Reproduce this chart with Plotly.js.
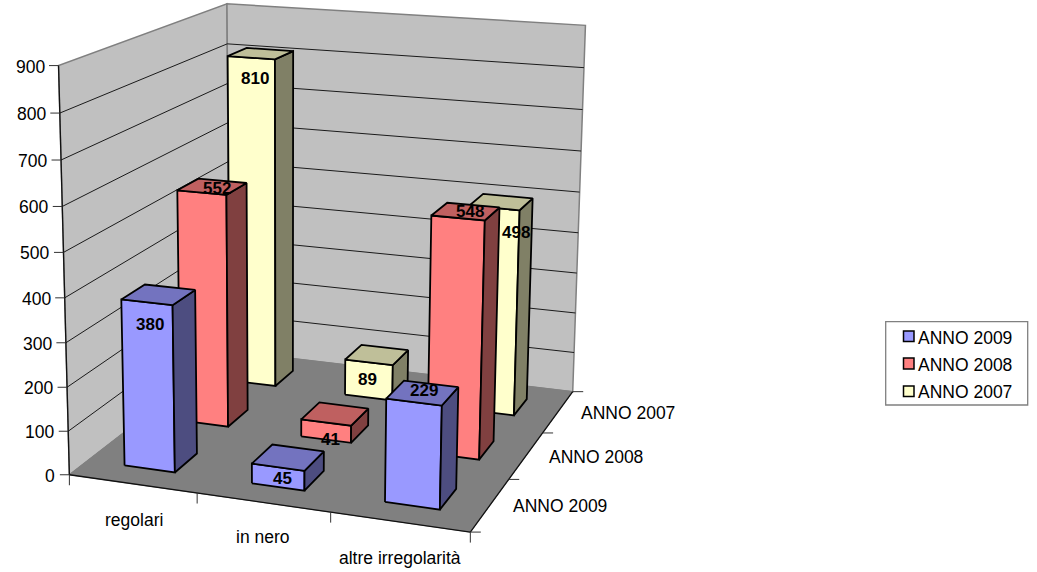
<!DOCTYPE html>
<html><head><meta charset="utf-8">
<script src="https://cdn.plot.ly/plotly-3.0.1.min.js"></script>
<style>html,body{margin:0;padding:0;background:#fff}</style></head>
<body><div id="chart" style="width:1037px;height:572px"></div>
<script>
// ---- data ----
const categories = ['regolari', 'in nero', 'altre irregolarità'];
const seriesNames = ['ANNO 2009', 'ANNO 2008', 'ANNO 2007'];
const anno2009 = [380, 45, 229];
const anno2008 = [552, 41, 548];
const anno2007 = [810, 89, 498];
const valueTicks = [0, 100, 200, 300, 400, 500, 600, 700, 800, 900];

// ---- style ----
const faceColors = [
  {front: '#9999FF', side: '#4D4D80', top: '#7373BF'},
  {front: '#FF8080', side: '#804040', top: '#BF6060'},
  {front: '#FFFFCC', side: '#808066', top: '#BFBF99'}
];
const FONT = 'Liberation Sans, Arial, sans-serif';
const AXIS_FONT = 17.5;
const barU = [0.295, 0.695];   // bar extent inside a category cell
const barV = [0.30, 0.70];     // bar extent inside a series cell
const labelOffset = [
  [[-10, 30], [-7, 21], [0, -2]],
  [[4, 2], [-6, 26], [3, 0]],
  [[-7, 25], [-10, 25], [14, 31]]
];
const legendBox = [885.7, 321.7, 1027.7, 405];
const legendSwatchX = [903.5, 914];
const legendSwatchY = [[331, 341.5], [358, 369], [386, 396.5]];

// ---- perspective calibration: [category pos, series pos, value] -> page pixel ----
const calibration = [
  [0,0,0,72,475],[1,0,0,198,493],[2,0,0,330,513],[3,0,0,470,531],
  [3,1,0,509,479],[3,2,0,543,433],[3,3,0,573,392],[0,3,0,228,352],[0,3,0,228,352],
  [0,0,900,56,65],[0,0,700,60,160],[0,0,500,63,253],[0,0,300,67,343],
  [0,3,900,228,5],[0,3,900,228,5],[0,3,900,228,5],[0,3,450,228,178],[0,3,450,228,178],
  [3,3,900,586,25],[3,3,700,582,109],[3,3,500,579,193],[3,3,300,577,273],[3,3,100,574,353]
];
function solve(M, b) {
  const n = b.length, A = M.map((r, i) => r.concat(b[i]));
  for (let c = 0; c < n; c++) {
    let p = c;
    for (let r = c + 1; r < n; r++) if (Math.abs(A[r][c]) > Math.abs(A[p][c])) p = r;
    [A[c], A[p]] = [A[p], A[c]];
    for (let r = 0; r < n; r++) if (r !== c) {
      const f = A[r][c] / A[c][c];
      for (let k = c; k <= n; k++) A[r][k] -= f * A[c][k];
    }
  }
  return A.map((r, i) => r[n] / r[i]);
}
function fitCamera() {
  const rows = [], rhs = [];
  calibration.forEach(([u, v, h, x, y]) => {
    const X = u / 3, Y = v / 3, Z = h / 900;
    rows.push([X, Y, Z, 1, 0, 0, 0, 0, -x * X, -x * Y, -x * Z]); rhs.push(x);
    rows.push([0, 0, 0, 0, X, Y, Z, 1, -y * X, -y * Y, -y * Z]); rhs.push(y);
  });
  const n = 11, N = [], t = [];
  for (let i = 0; i < n; i++) {
    N.push([]); t.push(rows.reduce((s, r, k) => s + r[i] * rhs[k], 0));
    for (let j = 0; j < n; j++) N[i].push(rows.reduce((s, r) => s + r[i] * r[j], 0));
  }
  return solve(N, t);
}
const P = fitCamera();
function project(u, v, h) {
  const X = u / 3, Y = v / 3, Z = h / 900;
  const w = P[8] * X + P[9] * Y + P[10] * Z + 1;
  return [(P[0] * X + P[1] * Y + P[2] * Z + P[3]) / w, (P[4] * X + P[5] * Y + P[6] * Z + P[7]) / w];
}

// ---- traces ----
const traces = [];
function poly(pts, fill, lineColor, lineWidth) {
  const pr = pts.map(p => project(p[0], p[1], p[2]));
  pr.push(pr[0]);
  traces.push({type: 'scatter', mode: 'lines', x: pr.map(p => p[0]), y: pr.map(p => p[1]),
    fill: 'toself', fillcolor: fill, line: {color: lineColor, width: lineWidth},
    hoverinfo: 'skip', showlegend: false});
}
function segs(list, color, width) {
  const x = [], y = [];
  list.forEach(s => {
    s.forEach(p => { x.push(p[0]); y.push(p[1]); });
    x.push(null); y.push(null);
  });
  traces.push({type: 'scatter', mode: 'lines', x, y, line: {color, width},
    hoverinfo: 'skip', showlegend: false});
}
const TOP = valueTicks[valueTicks.length - 1];
// walls and floor
poly([[0,0,0],[0,3,0],[0,3,TOP],[0,0,TOP]], '#C0C0C0', '#808080', 1.5);
poly([[0,3,0],[3,3,0],[3,3,TOP],[0,3,TOP]], '#C0C0C0', '#808080', 1.5);
poly([[0,0,0],[3,0,0],[3,3,0],[0,3,0]], '#808080', '#808080', 1);
// gridlines
segs(valueTicks.slice(1, -1).flatMap(t => [
  [project(0,0,t), project(0,3,t)],
  [project(0,3,t), project(3,3,t)]
]), '#1a1a1a', 1);
// axis lines and ticks
segs([[project(0,0,0), project(0,0,TOP)],
      [project(0,0,0), project(3,0,0)],
      [project(3,0,0), project(3,3,0)]], '#111', 1.3);
const tickSegs = [];
valueTicks.forEach(t => { const p = project(0,0,t); tickSegs.push([p, [p[0]-9.5, p[1]]]); });
[0,1,2,3].forEach(i => { const p = project(i,0,0); tickSegs.push([p, [p[0], p[1]+10.5]]); });
[0,1,2,3].forEach(i => { const p = project(3,i,0); tickSegs.push([p, [p[0]+10.5, p[1]]]); });
segs(tickSegs, '#333', 1);

// bars, back to front
const seriesValues = [anno2009, anno2008, anno2007];
const annotations = [];
function text(str, p, size, bold, xanchor) {
  annotations.push({x: p[0], y: p[1], xref: 'x', yref: 'y', text: bold ? '<b>' + str + '</b>' : str,
    showarrow: false, xanchor: xanchor || 'center', yanchor: 'middle', borderpad: 0,
    font: {family: FONT, size: size, color: '#000'}});
}
for (let s = 2; s >= 0; s--) {
  categories.forEach((c, i) => {
    const val = seriesValues[s][i], col = faceColors[s];
    const u0 = i + barU[0], u1 = i + barU[1], v0 = s + barV[0], v1 = s + barV[1];
    poly([[u0,v0,0],[u1,v0,0],[u1,v0,val],[u0,v0,val]], col.front, '#000', 1.8);
    poly([[u1,v0,0],[u1,v1,0],[u1,v1,val],[u1,v0,val]], col.side, '#000', 1.8);
    poly([[u0,v0,val],[u1,v0,val],[u1,v1,val],[u0,v1,val]], col.top, '#000', 1.8);
  });
}
for (let s = 2; s >= 0; s--) {
  categories.forEach((c, i) => {
    const val = seriesValues[s][i];
    const p = project(i + 0.5, s + 0.51, val), o = labelOffset[s][i];
    text(String(val), [p[0] + o[0], p[1] + o[1]], 17, true);
  });
}
// axis labels
valueTicks.forEach(t => { const p = project(0,0,t); text(String(t), [p[0]-13, p[1]+1], AXIS_FONT, false, 'right'); });
const catOff = [[1, 36], [0, 35], [0, 36]];
categories.forEach((c, i) => {
  const p = project(i + 0.5, 0, 0);
  text(c, [p[0] + catOff[i][0], p[1] + catOff[i][1]], AXIS_FONT, false);
});
seriesNames.forEach((n, s) => {
  const p = project(3, s + 0.5, 0);
  text(n, [p[0] + 22, p[1] + 1.5], AXIS_FONT, false, 'left');
});
// legend entries
seriesNames.forEach((n, s) => {
  traces.push({type: 'scatter', mode: 'markers', x: [null], y: [null], name: n, legendgroup: n,
    marker: {symbol: 'square', size: 11, color: 'rgba(0,0,0,0)', line: {width: 0}},
    hoverinfo: 'skip', showlegend: true});
});
// legend frame and swatches sit under the native legend text
const shapes = [{type: 'rect', xref: 'x', yref: 'y', x0: legendBox[0], y0: legendBox[1], x1: legendBox[2], y1: legendBox[3],
  fillcolor: '#fff', line: {color: '#808080', width: 1.3}, layer: 'above'}];
seriesNames.forEach((n, s) => {
  shapes.push({type: 'rect', xref: 'x', yref: 'y', x0: legendSwatchX[0], x1: legendSwatchX[1],
    y0: legendSwatchY[s][0], y1: legendSwatchY[s][1], fillcolor: faceColors[s].front,
    line: {color: '#000', width: 1.5}, layer: 'above'});
});

Plotly.newPlot('chart', traces, {
  width: 1037, height: 572, margin: {l: 0, r: 0, t: 0, b: 0},
  paper_bgcolor: '#fff', plot_bgcolor: '#fff',
  xaxis: {range: [0, 1037], visible: false, fixedrange: true},
  yaxis: {range: [572, 0], visible: false, fixedrange: true},
  annotations, shapes,
  legend: {x: 886 / 1037, y: 1 - 319 / 572, xanchor: 'left', yanchor: 'top',
    bgcolor: 'rgba(0,0,0,0)', borderwidth: 0,
    font: {family: FONT, size: AXIS_FONT, color: '#000'}, itemwidth: 30, tracegroupgap: 1.5, indentation: -8}
}, {displayModeBar: false, staticPlot: true});
</script></body></html>
